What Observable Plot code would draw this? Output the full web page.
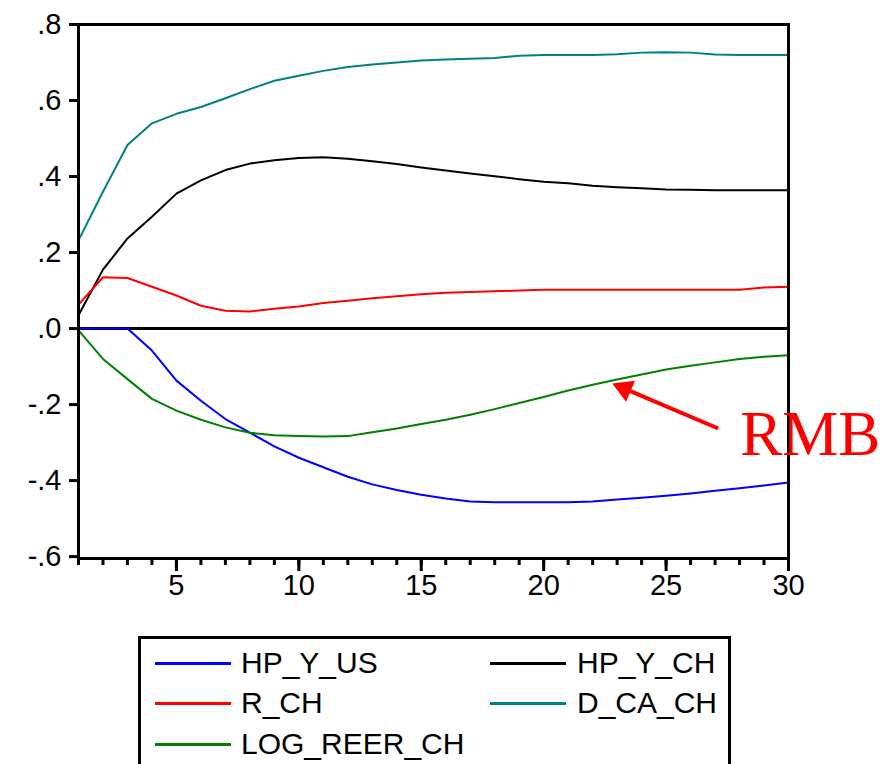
<!DOCTYPE html>
<html>
<head>
<meta charset="utf-8">
<script src="https://cdn.jsdelivr.net/npm/d3@7"></script>
<script src="https://cdn.jsdelivr.net/npm/@observablehq/plot@0.6"></script>
<style>
  html, body { margin: 0; padding: 0; background: #fff; overflow: hidden; }
  body { width: 888px; height: 764px; font-family: "Liberation Sans", Arial, sans-serif; }
  #legend { position: relative; width: 888px; height: 128px; overflow: hidden; }
  #legend .box { position: absolute; left: 138px; top: 0; width: 587px; height: 160px; border: 3px solid #000; border-bottom: none; }
  #legend .sw { position: absolute; height: 3px; }
  #legend .lab { position: absolute; font-size: 30px; line-height: 30px; color: #000; white-space: nowrap; }
</style>
</head>
<body>
<div id="chart"></div>
<div id="legend"></div>
<script>
// ---- data ----
const periods = d3.range(1, 31);
const seriesNames = ["HP_Y_US", "HP_Y_CH", "R_CH", "D_CA_CH", "LOG_REER_CH"];
const seriesColors = ["#0000ff", "#000000", "#ff0000", "#008080", "#008000"];

const hpYUS = [0, 0, 0, -0.058, -0.137, -0.19, -0.238, -0.274, -0.31, -0.34,
  -0.365, -0.39, -0.41, -0.425, -0.437, -0.447, -0.455, -0.457, -0.457, -0.457,
  -0.457, -0.455, -0.45, -0.445, -0.44, -0.434, -0.427, -0.42, -0.413, -0.405];
const hpYCH = [0.035, 0.155, 0.237, 0.294, 0.355, 0.39, 0.417, 0.434, 0.443, 0.449,
  0.451, 0.447, 0.44, 0.433, 0.424, 0.416, 0.408, 0.401, 0.393, 0.386,
  0.382, 0.376, 0.372, 0.369, 0.366, 0.365, 0.364, 0.364, 0.364, 0.364];
const rCH = [0.063, 0.135, 0.133, 0.11, 0.087, 0.06, 0.047, 0.045, 0.052, 0.058,
  0.067, 0.073, 0.08, 0.085, 0.09, 0.094, 0.096, 0.098, 0.1, 0.102,
  0.102, 0.102, 0.102, 0.102, 0.102, 0.102, 0.102, 0.102, 0.108, 0.11];
const dCACH = [0.232, 0.36, 0.483, 0.54, 0.565, 0.583, 0.606, 0.63, 0.652, 0.665,
  0.678, 0.688, 0.695, 0.7, 0.705, 0.708, 0.71, 0.712, 0.718, 0.72,
  0.72, 0.72, 0.722, 0.726, 0.727, 0.726, 0.721, 0.72, 0.72, 0.72];
const logReerCH = [-0.005, -0.08, -0.133, -0.185, -0.216, -0.24, -0.26, -0.274, -0.281, -0.283,
  -0.284, -0.283, -0.273, -0.263, -0.251, -0.24, -0.227, -0.212, -0.196, -0.18,
  -0.163, -0.148, -0.134, -0.121, -0.108, -0.098, -0.089, -0.08, -0.074, -0.07];

const xMinorTicks = d3.range(1, 31);
const xMajorTicks = [5, 10, 15, 20, 25, 30];
const yTicks = [0.8, 0.6, 0.4, 0.2, 0, -0.2, -0.4, -0.6];
const yTickLabels = [".8", ".6", ".4", ".2", ".0", "-.2", "-.4", "-.6"];

// annotation (data units)
const annoLabel = [{x: 28.03, y: -0.279, text: "RMB"}];
const annoArrow = [{x1: 27.13, y1: -0.263, x2: 23.3, y2: -0.158}];
const annoHead = [{x: 23.3, y: -0.158, angle: -66.8}];

// ---- long table ----
const allValues = [hpYUS, hpYCH, rCH, dCACH, logReerCH];
const table = [];
seriesNames.forEach((name, i) => {
  periods.forEach((p, j) => table.push({series: name, period: p, value: allValues[i][j]}));
});

const font = "'Liberation Sans', Arial, sans-serif";

const chart = Plot.plot({
  width: 888,
  height: 636,
  marginTop: 24,
  marginBottom: 78,
  marginLeft: 78,
  marginRight: 100,
  style: {fontFamily: font, background: "#fff", color: "#000"},
  x: {domain: [1, 30], axis: null},
  y: {domain: [-0.605, 0.8], axis: null},
  color: {domain: seriesNames, range: seriesColors},
  marks: [
    Plot.ruleY([0], {stroke: "#000", strokeWidth: 3}),
    Plot.line(table, {x: "period", y: "value", z: "series", stroke: "series", strokeWidth: 2, curve: "linear"}),
    Plot.frame({stroke: "#000", strokeWidth: 3}),
    Plot.axisX({ticks: xMinorTicks, tickSize: 7, strokeWidth: 3, tickFormat: () => "", anchor: "bottom"}),
    Plot.axisX({ticks: xMajorTicks, tickSize: 13, strokeWidth: 3, tickPadding: 3, fontSize: 29, anchor: "bottom", tickFormat: d => String(d)}),
    Plot.axisY({ticks: yTicks, tickSize: 9, strokeWidth: 3, tickPadding: 8, fontSize: 29, anchor: "left",
      tickFormat: d => yTickLabels[yTicks.indexOf(d)]}),
    Plot.link(annoArrow, {x1: "x1", y1: "y1", x2: "x2", y2: "y2", stroke: "#ff0000", strokeWidth: 4}),
    Plot.dot(annoHead, {x: "x", y: "y", symbol: "triangle", r: 8.5, fill: "#ff0000", stroke: "none", rotate: "angle"}),
    Plot.text(annoLabel, {x: "x", y: "y", text: "text", fill: "#ff0000", fontSize: 63, textAnchor: "start",
      fontFamily: "'Liberation Serif', 'Times New Roman', serif", clip: false})
  ]
});
document.getElementById("chart").appendChild(chart);

// ---- legend (HTML, below the SVG) ----
const legend = document.getElementById("legend");
const box = document.createElement("div");
box.className = "box";
legend.appendChild(box);
const colLine = [155, 490];
const colText = [241, 577];
const rowCenter = [27, 67, 108];
seriesNames.forEach((name, i) => {
  const col = i % 2, row = Math.floor(i / 2);
  const sw = document.createElement("div");
  sw.className = "sw";
  sw.style.left = colLine[col] + "px";
  sw.style.width = "76px";
  sw.style.top = (rowCenter[row] - 1.5) + "px";
  sw.style.background = seriesColors[i];
  legend.appendChild(sw);
  const lab = document.createElement("div");
  lab.className = "lab";
  lab.style.left = colText[col] + "px";
  lab.style.top = (rowCenter[row] - 14.7) + "px";
  lab.textContent = name;
  legend.appendChild(lab);
});
</script>
</body>
</html>
